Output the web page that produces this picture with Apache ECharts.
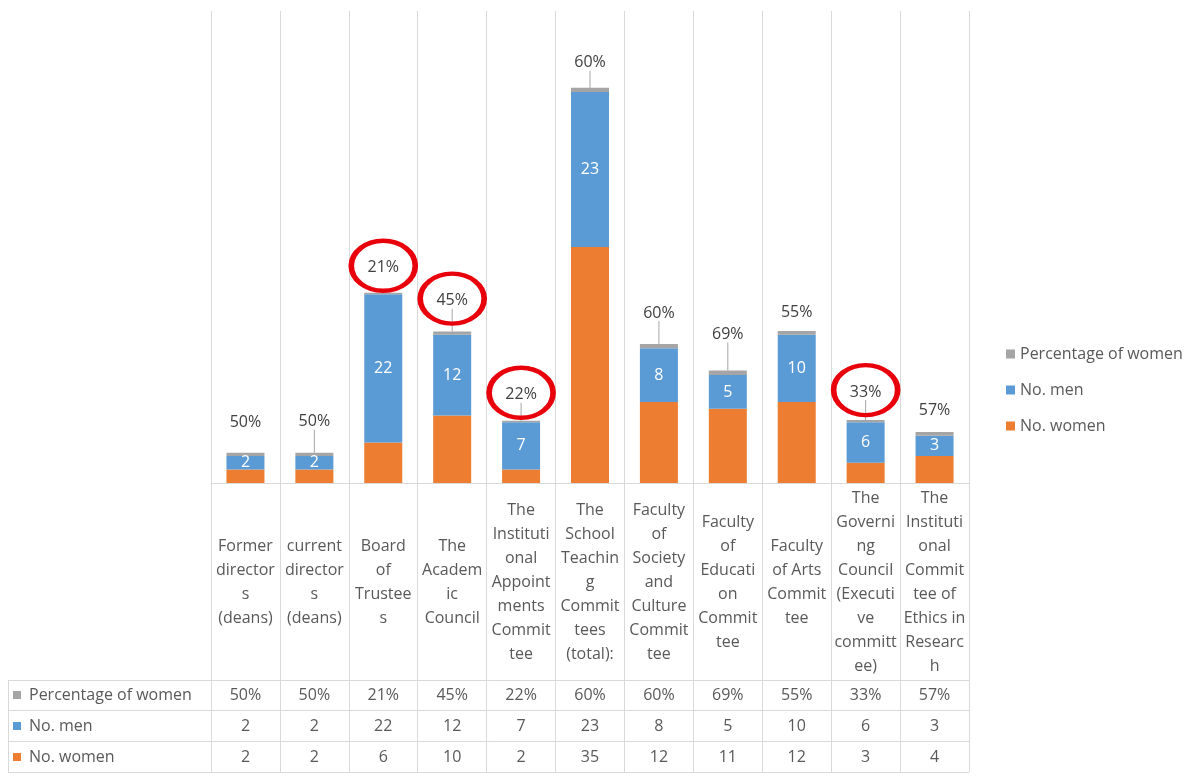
<!DOCTYPE html>
<html>
<head>
<meta charset="utf-8">
<script src="https://cdn.jsdelivr.net/npm/echarts@6/dist/echarts.min.js"></script>
<style>
html,body{margin:0;padding:0;background:#fff;}
#chart{width:1204px;height:778px;}
</style>
</head>
<body>
<div id="chart"></div>
<script>
// ---- data ----
const categories = [
  "Former\ndirector\ns\n(deans)",
  "current\ndirector\ns\n(deans)",
  "Board\nof\nTrustee\ns",
  "The\nAcadem\nic\nCouncil",
  "The\nInstituti\nonal\nAppoint\nments\nCommit\ntee",
  "The\nSchool\nTeachin\ng\nCommit\ntees\n(total):",
  "Faculty\nof\nSociety\nand\nCulture\nCommit\ntee",
  "Faculty\nof\nEducati\non\nCommit\ntee",
  "Faculty\nof Arts\nCommit\ntee",
  "The\nGoverni\nng\nCouncil\n(Executi\nve\ncommitt\nee)",
  "The\nInstituti\nonal\nCommit\ntee of\nEthics in\nResearc\nh"
];
const noWomen = [2, 2, 6, 10, 2, 35, 12, 11, 12, 3, 4];
const noMen = [2, 2, 22, 12, 7, 23, 8, 5, 10, 6, 3];
const pctWomen = [0.50, 0.50, 0.21, 0.45, 0.22, 0.60, 0.60, 0.69, 0.55, 0.33, 0.57];
const circledIdx = [2, 3, 4, 9];

// ---- styling (label offsets above bar tops, px; leader line shown or not) ----
const labelGap = [30, 31, 25, 31, 26, 25, 31, 36, 19, 28, 22];
const leaderLine = [false, true, false, true, true, true, true, true, false, true, false];

const C_WOMEN = '#ED7D31', C_MEN = '#5B9BD5', C_PCT = '#A5A5A5';
const FONT = '"Open Sans", "Noto Sans", sans-serif';
const TXT = '#595959', LINE = '#D9D9D9';

const W = 1204, H = 778;
const gridLeft = 211, gridRight = 969, gridTop = 11, gridBottom = 483;
const rowLines = [680, 710, 741, 772];
const rowCenters = [695, 726, 757];
const tableLeft = 8;

const pctLabels = pctWomen.map(v => Math.round(v * 100) + '%');

function rowAxis(data, yCenter) {
  return {
    type: 'category', data: data, position: 'bottom', boundaryGap: true,
    axisLine: {show: false}, axisTick: {show: false}, splitLine: {show: false},
    axisLabel: {interval: 0, margin: yCenter - gridBottom, verticalAlign: 'middle',
      color: TXT, fontFamily: FONT, fontSize: 16}
  };
}

const totals = noWomen.map((w, i) => w + noMen[i] + pctWomen[i]);
const ellipsePath = 'path://M0,50A50,50,0,1,1,100,50A50,50,0,1,1,0,50Z';

const rowNames = ['Percentage of women', 'No. men', 'No. women'];
const rowColors = [C_PCT, C_MEN, C_WOMEN];

const graphics = [];
rowLines.forEach(y => graphics.push({type: 'line', shape: {x1: tableLeft, y1: y + 0.5, x2: gridRight, y2: y + 0.5}, style: {stroke: LINE, lineWidth: 1}, silent: true}));
graphics.push({type: 'line', shape: {x1: tableLeft + 0.5, y1: rowLines[0], x2: tableLeft + 0.5, y2: rowLines[3]}, style: {stroke: LINE, lineWidth: 1}, silent: true});
rowNames.forEach((n, i) => {
  graphics.push({type: 'rect', shape: {x: 13, y: rowCenters[i] - 4, width: 8, height: 8}, style: {fill: rowColors[i]}, silent: true});
  graphics.push({type: 'text', x: 29, y: rowCenters[i], style: {text: n, fill: TXT, font: '16px ' + FONT, verticalAlign: 'middle', align: 'left'}, silent: true});
});

const option = {
  animation: false,
  backgroundColor: '#fff',
  grid: {left: gridLeft, right: W - gridRight, top: gridTop, bottom: H - gridBottom, containLabel: false},
  legend: {
    orient: 'vertical', left: 1001, top: 341, itemWidth: 9, itemHeight: 9, itemGap: 20,
    icon: 'rect',
    data: ['Percentage of women', 'No. men', 'No. women'],
    textStyle: {color: TXT, fontFamily: FONT, fontSize: 16}
  },
  xAxis: [
    {
      type: 'category', data: categories, boundaryGap: true, position: 'bottom',
      axisLine: {show: true, lineStyle: {color: LINE}},
      axisTick: {show: true, interval: 0, length: rowLines[3] - gridBottom, lineStyle: {color: LINE}},
      splitLine: {show: true, interval: 0, lineStyle: {color: LINE}},
      axisLabel: {interval: 0, margin: 582 - gridBottom, verticalAlign: 'middle', lineHeight: 24,
        color: TXT, fontFamily: FONT, fontSize: 16}
    },
    rowAxis(pctLabels, rowCenters[0]),
    rowAxis(noMen.map(String), rowCenters[1]),
    rowAxis(noWomen.map(String), rowCenters[2])
  ],
  yAxis: {type: 'value', min: 0, max: 70, show: false, splitLine: {show: false}},
  series: [
    {
      name: 'No. women', type: 'bar', stack: 'total', data: noWomen, barWidth: 38,
      itemStyle: {color: C_WOMEN}
    },
    {
      name: 'No. men', type: 'bar', stack: 'total', data: noMen, barWidth: 38,
      itemStyle: {color: C_MEN},
      label: {show: true, position: 'inside', color: '#fff', fontFamily: FONT, fontSize: 16}
    },
    {
      name: 'Percentage of women', type: 'bar', stack: 'total', barWidth: 38,
      data: pctWomen.map((v, i) => ({value: v, labelLine: {show: leaderLine[i]}})),
      itemStyle: {color: C_PCT},
      label: {show: true, position: 'top', distance: 2, color: '#404040', fontFamily: FONT, fontSize: 16,
        formatter: p => Math.round(p.value * 100) + '%'},
      labelLayout: p => ({dy: -(labelGap[p.dataIndex] - 10)}),
      labelLine: {show: true, lineStyle: {color: '#A6A6A6', width: 1}}
    },
    {
      name: 'circles', type: 'scatter', z: 5, silent: true,
      data: circledIdx.map(i => ({value: [i, totals[i]], symbolOffset: [0, -(labelGap[i] + 2)]})),
      symbol: ellipsePath, symbolSize: [64, 50],
      itemStyle: {color: 'rgba(0,0,0,0)', borderColor: '#E8000B', borderWidth: 5, opacity: 1}
    }
  ],
  graphic: graphics
};

const chart = echarts.init(document.getElementById('chart'), null, {renderer: 'canvas'});
chart.setOption(option);
</script>
</body>
</html>
